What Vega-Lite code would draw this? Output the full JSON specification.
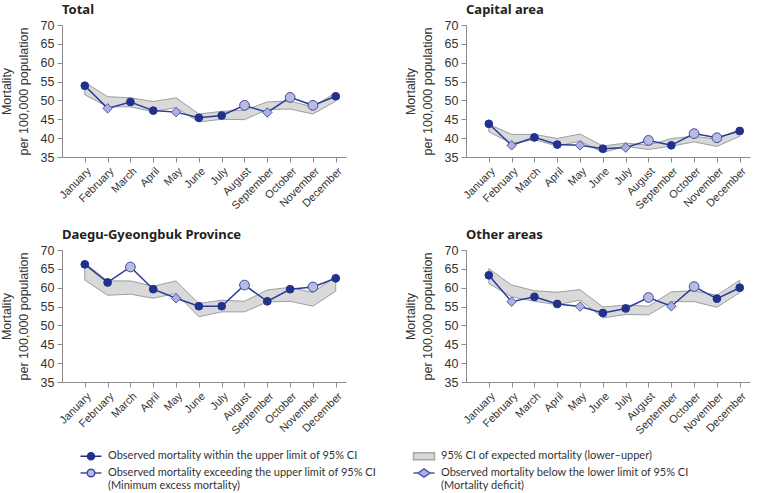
{
  "$schema": "https://vega.github.io/schema/vega-lite/v6.json",
  "background": "white",
  "padding": {"left": 0, "top": 4, "right": 5, "bottom": 0},
  "datasets": {
    "mort": [
      {"region": "Total", "m": 1, "obs": 53.9, "lo": 51.5, "hi": 54.8, "status": "within"},
      {"region": "Total", "m": 2, "obs": 47.9, "lo": 48.3, "hi": 51.0, "status": "below"},
      {"region": "Total", "m": 3, "obs": 49.6, "lo": 48.3, "hi": 50.7, "status": "within"},
      {"region": "Total", "m": 4, "obs": 47.3, "lo": 47.0, "hi": 49.7, "status": "within"},
      {"region": "Total", "m": 5, "obs": 46.9, "lo": 48.1, "hi": 50.7, "status": "below"},
      {"region": "Total", "m": 6, "obs": 45.4, "lo": 44.3, "hi": 46.4, "status": "within"},
      {"region": "Total", "m": 7, "obs": 46.0, "lo": 45.0, "hi": 47.1, "status": "within"},
      {"region": "Total", "m": 8, "obs": 48.7, "lo": 44.9, "hi": 47.4, "status": "exceed"},
      {"region": "Total", "m": 9, "obs": 46.8, "lo": 47.6, "hi": 49.6, "status": "below"},
      {"region": "Total", "m": 10, "obs": 50.8, "lo": 47.7, "hi": 49.8, "status": "exceed"},
      {"region": "Total", "m": 11, "obs": 48.7, "lo": 46.4, "hi": 48.3, "status": "exceed"},
      {"region": "Total", "m": 12, "obs": 51.1, "lo": 49.8, "hi": 52.1, "status": "within"},
      {"region": "Capital area", "m": 1, "obs": 43.8, "lo": 41.7, "hi": 43.7, "status": "within"},
      {"region": "Capital area", "m": 2, "obs": 38.1, "lo": 38.6, "hi": 41.0, "status": "below"},
      {"region": "Capital area", "m": 3, "obs": 40.2, "lo": 39.6, "hi": 41.0, "status": "within"},
      {"region": "Capital area", "m": 4, "obs": 38.3, "lo": 37.9, "hi": 39.9, "status": "within"},
      {"region": "Capital area", "m": 5, "obs": 38.1, "lo": 39.2, "hi": 41.1, "status": "below"},
      {"region": "Capital area", "m": 6, "obs": 37.2, "lo": 36.2, "hi": 37.9, "status": "within"},
      {"region": "Capital area", "m": 7, "obs": 37.5, "lo": 37.8, "hi": 38.7, "status": "below"},
      {"region": "Capital area", "m": 8, "obs": 39.4, "lo": 37.0, "hi": 38.1, "status": "exceed"},
      {"region": "Capital area", "m": 9, "obs": 38.1, "lo": 37.9, "hi": 39.9, "status": "within"},
      {"region": "Capital area", "m": 10, "obs": 41.2, "lo": 39.0, "hi": 40.5, "status": "exceed"},
      {"region": "Capital area", "m": 11, "obs": 40.1, "lo": 37.8, "hi": 39.7, "status": "exceed"},
      {"region": "Capital area", "m": 12, "obs": 41.9, "lo": 40.5, "hi": 42.4, "status": "within"},
      {"region": "Daegu-Gyeongbuk Province", "m": 1, "obs": 66.2, "lo": 62.0, "hi": 66.6, "status": "within"},
      {"region": "Daegu-Gyeongbuk Province", "m": 2, "obs": 61.4, "lo": 58.0, "hi": 61.8, "status": "within"},
      {"region": "Daegu-Gyeongbuk Province", "m": 3, "obs": 65.5, "lo": 58.3, "hi": 61.8, "status": "exceed"},
      {"region": "Daegu-Gyeongbuk Province", "m": 4, "obs": 59.6, "lo": 57.2, "hi": 60.4, "status": "within"},
      {"region": "Daegu-Gyeongbuk Province", "m": 5, "obs": 57.2, "lo": 58.5, "hi": 61.8, "status": "below"},
      {"region": "Daegu-Gyeongbuk Province", "m": 6, "obs": 55.1, "lo": 52.3, "hi": 55.8, "status": "within"},
      {"region": "Daegu-Gyeongbuk Province", "m": 7, "obs": 55.1, "lo": 53.6, "hi": 56.7, "status": "within"},
      {"region": "Daegu-Gyeongbuk Province", "m": 8, "obs": 60.7, "lo": 53.6, "hi": 56.4, "status": "exceed"},
      {"region": "Daegu-Gyeongbuk Province", "m": 9, "obs": 56.4, "lo": 56.2, "hi": 59.4, "status": "within"},
      {"region": "Daegu-Gyeongbuk Province", "m": 10, "obs": 59.6, "lo": 56.4, "hi": 60.1, "status": "within"},
      {"region": "Daegu-Gyeongbuk Province", "m": 11, "obs": 60.2, "lo": 55.1, "hi": 58.7, "status": "exceed"},
      {"region": "Daegu-Gyeongbuk Province", "m": 12, "obs": 62.5, "lo": 59.1, "hi": 63.1, "status": "within"},
      {"region": "Other areas", "m": 1, "obs": 63.3, "lo": 61.1, "hi": 65.1, "status": "within"},
      {"region": "Other areas", "m": 2, "obs": 56.3, "lo": 57.6, "hi": 60.7, "status": "below"},
      {"region": "Other areas", "m": 3, "obs": 57.6, "lo": 56.4, "hi": 59.2, "status": "within"},
      {"region": "Other areas", "m": 4, "obs": 55.7, "lo": 55.5, "hi": 58.8, "status": "within"},
      {"region": "Other areas", "m": 5, "obs": 55.0, "lo": 56.7, "hi": 59.5, "status": "below"},
      {"region": "Other areas", "m": 6, "obs": 53.3, "lo": 52.0, "hi": 54.9, "status": "within"},
      {"region": "Other areas", "m": 7, "obs": 54.5, "lo": 52.9, "hi": 55.4, "status": "within"},
      {"region": "Other areas", "m": 8, "obs": 57.4, "lo": 52.8, "hi": 55.1, "status": "exceed"},
      {"region": "Other areas", "m": 9, "obs": 55.1, "lo": 56.3, "hi": 58.9, "status": "below"},
      {"region": "Other areas", "m": 10, "obs": 60.3, "lo": 56.3, "hi": 59.2, "status": "exceed"},
      {"region": "Other areas", "m": 11, "obs": 57.1, "lo": 54.8, "hi": 58.0, "status": "within"},
      {"region": "Other areas", "m": 12, "obs": 60.0, "lo": 58.7, "hi": 62.0, "status": "within"}
    ],
    "legendkeys": [
      {"key": "Observed mortality within the upper limit of 95% CI"},
      {"key": "95% CI of expected mortality (lower–upper)"},
      {"key": "Observed mortality exceeding the upper limit of 95% CI|(Minimum excess mortality)"},
      {"key": "Observed mortality below the lower limit of 95% CI|(Mortality deficit)"}
    ]
  },
  "data": {"name": "mort"},
  "columns": 2,
  "spacing": {"row": 18, "column": 58},
  "concat": [
    {
      "title": "Total",
      "width": 284, "height": 132,
      "transform": [{"filter": "datum.region == 'Total'"}],
      "encoding": {
        "x": {"field": "m", "type": "quantitative", "scale": {"domain": [0, 12.45], "nice": false, "zero": false},
              "axis": {"title": null, "values": [1,2,3,4,5,6,7,8,9,10,11,12], "labelAngle": -45, "labelFontSize": 11, "labelOverlap": false,
                       "labelExpr": "['','January','February','March','April','May','June','July','August','September','October','November','December'][datum.value]"}},
        "y": {"field": "obs", "type": "quantitative", "scale": {"domain": [35, 70], "nice": false, "zero": false},
              "axis": {"title": ["Mortality", "per 100,000 population"], "values": [35,40,45,50,55,60,65,70]}}
      },
      "layer": [
        {"mark": {"type": "area", "fill": "#d9d9d9", "stroke": "#9e9e9e", "strokeWidth": 1},
         "encoding": {"y": {"field": "lo", "type": "quantitative", "scale": {"domain": [35, 70], "nice": false, "zero": false},
                            "axis": {"title": ["Mortality", "per 100,000 population"], "values": [35,40,45,50,55,60,65,70]}},
                      "y2": {"field": "hi"}}},
        {"mark": {"type": "line", "color": "#2c3a99", "strokeWidth": 1.5}},
        {"transform": [{"filter": "datum.status == 'within'"}], "mark": {"type": "point", "shape": "circle", "filled": true, "fill": "#22308e", "stroke": "#22308e", "strokeWidth": 1, "size": 60, "opacity": 1}},
        {"transform": [{"filter": "datum.status == 'exceed'"}], "mark": {"type": "point", "shape": "circle", "filled": true, "fill": "#b7bce0", "stroke": "#3d49a3", "strokeWidth": 1, "size": 95, "opacity": 1}},
        {"transform": [{"filter": "datum.status == 'below'"}], "mark": {"type": "point", "shape": "diamond", "filled": true, "fill": "#aab1de", "stroke": "#4b57ab", "strokeWidth": 1, "size": 90, "opacity": 1}}
      ]
    },
    {
      "title": "Capital area",
      "width": 284, "height": 132,
      "transform": [{"filter": "datum.region == 'Capital area'"}],
      "encoding": {
        "x": {"field": "m", "type": "quantitative", "scale": {"domain": [0, 12.45], "nice": false, "zero": false},
              "axis": {"title": null, "values": [1,2,3,4,5,6,7,8,9,10,11,12], "labelAngle": -45, "labelFontSize": 11, "labelOverlap": false,
                       "labelExpr": "['','January','February','March','April','May','June','July','August','September','October','November','December'][datum.value]"}},
        "y": {"field": "obs", "type": "quantitative", "scale": {"domain": [35, 70], "nice": false, "zero": false},
              "axis": {"title": ["Mortality", "per 100,000 population"], "values": [35,40,45,50,55,60,65,70]}}
      },
      "layer": [
        {"mark": {"type": "area", "fill": "#d9d9d9", "stroke": "#9e9e9e", "strokeWidth": 1},
         "encoding": {"y": {"field": "lo", "type": "quantitative", "scale": {"domain": [35, 70], "nice": false, "zero": false},
                            "axis": {"title": ["Mortality", "per 100,000 population"], "values": [35,40,45,50,55,60,65,70]}},
                      "y2": {"field": "hi"}}},
        {"mark": {"type": "line", "color": "#2c3a99", "strokeWidth": 1.5}},
        {"transform": [{"filter": "datum.status == 'within'"}], "mark": {"type": "point", "shape": "circle", "filled": true, "fill": "#22308e", "stroke": "#22308e", "strokeWidth": 1, "size": 60, "opacity": 1}},
        {"transform": [{"filter": "datum.status == 'exceed'"}], "mark": {"type": "point", "shape": "circle", "filled": true, "fill": "#b7bce0", "stroke": "#3d49a3", "strokeWidth": 1, "size": 95, "opacity": 1}},
        {"transform": [{"filter": "datum.status == 'below'"}], "mark": {"type": "point", "shape": "diamond", "filled": true, "fill": "#aab1de", "stroke": "#4b57ab", "strokeWidth": 1, "size": 90, "opacity": 1}}
      ]
    },
    {
      "title": "Daegu-Gyeongbuk Province",
      "width": 284, "height": 132,
      "transform": [{"filter": "datum.region == 'Daegu-Gyeongbuk Province'"}],
      "encoding": {
        "x": {"field": "m", "type": "quantitative", "scale": {"domain": [0, 12.45], "nice": false, "zero": false},
              "axis": {"title": null, "values": [1,2,3,4,5,6,7,8,9,10,11,12], "labelAngle": -45, "labelFontSize": 11, "labelOverlap": false,
                       "labelExpr": "['','January','February','March','April','May','June','July','August','September','October','November','December'][datum.value]"}},
        "y": {"field": "obs", "type": "quantitative", "scale": {"domain": [35, 70], "nice": false, "zero": false},
              "axis": {"title": ["Mortality", "per 100,000 population"], "values": [35,40,45,50,55,60,65,70]}}
      },
      "layer": [
        {"mark": {"type": "area", "fill": "#d9d9d9", "stroke": "#9e9e9e", "strokeWidth": 1},
         "encoding": {"y": {"field": "lo", "type": "quantitative", "scale": {"domain": [35, 70], "nice": false, "zero": false},
                            "axis": {"title": ["Mortality", "per 100,000 population"], "values": [35,40,45,50,55,60,65,70]}},
                      "y2": {"field": "hi"}}},
        {"mark": {"type": "line", "color": "#2c3a99", "strokeWidth": 1.5}},
        {"transform": [{"filter": "datum.status == 'within'"}], "mark": {"type": "point", "shape": "circle", "filled": true, "fill": "#22308e", "stroke": "#22308e", "strokeWidth": 1, "size": 60, "opacity": 1}},
        {"transform": [{"filter": "datum.status == 'exceed'"}], "mark": {"type": "point", "shape": "circle", "filled": true, "fill": "#b7bce0", "stroke": "#3d49a3", "strokeWidth": 1, "size": 95, "opacity": 1}},
        {"transform": [{"filter": "datum.status == 'below'"}], "mark": {"type": "point", "shape": "diamond", "filled": true, "fill": "#aab1de", "stroke": "#4b57ab", "strokeWidth": 1, "size": 90, "opacity": 1}}
      ]
    },
    {
      "title": "Other areas",
      "width": 284, "height": 132,
      "transform": [{"filter": "datum.region == 'Other areas'"}],
      "encoding": {
        "x": {"field": "m", "type": "quantitative", "scale": {"domain": [0, 12.45], "nice": false, "zero": false},
              "axis": {"title": null, "values": [1,2,3,4,5,6,7,8,9,10,11,12], "labelAngle": -45, "labelFontSize": 11, "labelOverlap": false,
                       "labelExpr": "['','January','February','March','April','May','June','July','August','September','October','November','December'][datum.value]"}},
        "y": {"field": "obs", "type": "quantitative", "scale": {"domain": [35, 70], "nice": false, "zero": false},
              "axis": {"title": ["Mortality", "per 100,000 population"], "values": [35,40,45,50,55,60,65,70]}}
      },
      "layer": [
        {"mark": {"type": "area", "fill": "#d9d9d9", "stroke": "#9e9e9e", "strokeWidth": 1},
         "encoding": {"y": {"field": "lo", "type": "quantitative", "scale": {"domain": [35, 70], "nice": false, "zero": false},
                            "axis": {"title": ["Mortality", "per 100,000 population"], "values": [35,40,45,50,55,60,65,70]}},
                      "y2": {"field": "hi"}}},
        {"mark": {"type": "line", "color": "#2c3a99", "strokeWidth": 1.5}},
        {"transform": [{"filter": "datum.status == 'within'"}], "mark": {"type": "point", "shape": "circle", "filled": true, "fill": "#22308e", "stroke": "#22308e", "strokeWidth": 1, "size": 60, "opacity": 1}},
        {"transform": [{"filter": "datum.status == 'exceed'"}], "mark": {"type": "point", "shape": "circle", "filled": true, "fill": "#b7bce0", "stroke": "#3d49a3", "strokeWidth": 1, "size": 95, "opacity": 1}},
        {"transform": [{"filter": "datum.status == 'below'"}], "mark": {"type": "point", "shape": "diamond", "filled": true, "fill": "#aab1de", "stroke": "#4b57ab", "strokeWidth": 1, "size": 90, "opacity": 1}},
        {"data": {"name": "legendkeys"},
         "mark": {"type": "point", "filled": true, "opacity": 0},
         "encoding": {
           "x": {"value": 0}, "y": {"value": 0},
           "shape": {"field": "key", "type": "nominal",
             "scale": {"domain": ["Observed mortality within the upper limit of 95% CI", "Observed mortality exceeding the upper limit of 95% CI|(Minimum excess mortality)", "95% CI of expected mortality (lower–upper)", "Observed mortality below the lower limit of 95% CI|(Mortality deficit)"],
                       "range": ["M-2.1,0H-0.7M0.7,0H2.1M-0.7,0A0.7,0.7 0 1,0 0.7,0A0.7,0.7 0 1,0 -0.7,0Z",
                                 "M-2.1,0H-0.75M0.75,0H2.1M-0.75,0A0.75,0.75 0 1,0 0.75,0A0.75,0.75 0 1,0 -0.75,0Z",
                                 "M-2.1,-0.7H2.1V0.7H-2.1Z",
                                 "M-2.1,0H-1.2M1.2,0H2.1M-1.2,0L0,-0.8L1.2,0L0,0.8Z"]},
             "legend": {"title": null, "orient": "none", "legendX": 23, "legendY": 425, "columns": 2, "symbolSize": 100, "labelOffset": 11, "columnPadding": 33, "rowPadding": 3, "labelExpr": "split(datum.label, '|')"}},
           "fill": {"field": "key", "type": "nominal",
             "scale": {"domain": ["Observed mortality within the upper limit of 95% CI", "Observed mortality exceeding the upper limit of 95% CI|(Minimum excess mortality)", "95% CI of expected mortality (lower–upper)", "Observed mortality below the lower limit of 95% CI|(Mortality deficit)"],
                       "range": ["#22308e", "#b7bce0", "#d9d9d9", "#aab1de"]},
             "legend": {"title": null, "orient": "none", "legendX": 23, "legendY": 425, "columns": 2, "symbolSize": 100, "labelOffset": 11, "columnPadding": 33, "rowPadding": 3, "labelExpr": "split(datum.label, '|')"}},
           "stroke": {"field": "key", "type": "nominal",
             "scale": {"domain": ["Observed mortality within the upper limit of 95% CI", "Observed mortality exceeding the upper limit of 95% CI|(Minimum excess mortality)", "95% CI of expected mortality (lower–upper)", "Observed mortality below the lower limit of 95% CI|(Mortality deficit)"],
                       "range": ["#22308e", "#3d49a3", "#a6a6a6", "#4b57ab"]},
             "legend": {"title": null, "orient": "none", "legendX": 23, "legendY": 425, "columns": 2, "symbolSize": 100, "labelOffset": 11, "columnPadding": 33, "rowPadding": 3, "labelExpr": "split(datum.label, '|')"}}
         }}
      ]
    }
  ],
  "config": {
    "view": {"stroke": null},
    "font": "Liberation Sans",
    "axis": {"domainColor": "#8c8c8c", "tickColor": "#8c8c8c", "labelColor": "#333333", "titleColor": "#333333",
             "labelFont": "Liberation Sans", "titleFont": "Liberation Sans", "labelFontSize": 12.5, "titleFontSize": 12.5,
             "titleFontWeight": "normal", "grid": false, "tickSize": 5, "titlePadding": 10, "titleLineHeight": 17, "labelPadding": 3},
    "title": {"anchor": "start", "frame": "group", "font": "Noto Sans", "fontSize": 13, "fontWeight": "bold", "color": "#222222", "offset": 2},
    "legend": {"labelFont": "Lato", "labelFontSize": 11, "labelColor": "#333333", "labelLimit": 0, "symbolStrokeWidth": 1.5, "symbolOpacity": 1, "padding": 0, "labelLineHeight": 13}
  }
}
